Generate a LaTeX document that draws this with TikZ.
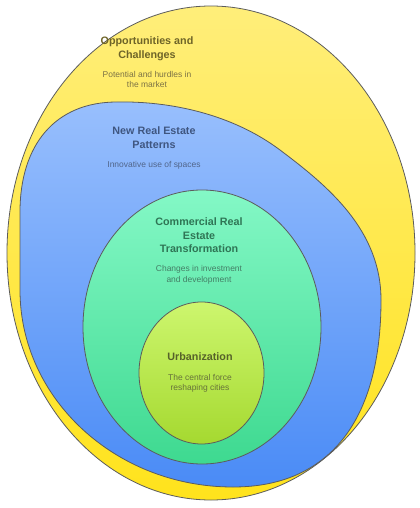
\documentclass[tikz,border=0pt]{standalone}
\usepackage{fontspec}
\setmainfont{Liberation Sans}
\usetikzlibrary{positioning}
\definecolor{Outline}{HTML}{5C5C5C}
\definecolor{SunTop}{HTML}{FFEE7A}
\definecolor{SunBot}{HTML}{FFE31C}
\definecolor{SkyTop}{HTML}{98BFFD}
\definecolor{SkyBot}{HTML}{4A8BF6}
\definecolor{MintTop}{HTML}{84F8C6}
\definecolor{MintBot}{HTML}{3ED990}
\definecolor{LimeTop}{HTML}{CDF66E}
\definecolor{LimeBot}{HTML}{A5D930}
\definecolor{SunInk}{HTML}{6E6428}
\definecolor{SunNote}{HTML}{7D7345}
\definecolor{SkyInk}{HTML}{3F5680}
\definecolor{SkyNote}{HTML}{51658A}
\definecolor{MintInk}{HTML}{2F7555}
\definecolor{MintNote}{HTML}{447F66}
\definecolor{LimeInk}{HTML}{56622A}
\definecolor{LimeNote}{HTML}{66723A}
\tikzset{
  layer/.style={draw=Outline, line width=0.8bp},
  heading/.style={
    inner sep=0pt, align=center, text depth=2.2bp,
    font=\fontsize{10.8}{13.5}\selectfont\bfseries
  },
  blurb/.style={
    inner sep=0pt, align=center,
    font=\fontsize{8.5}{10.5}\selectfont
  }
}
\begin{document}
\begin{tikzpicture}[x=1bp, y=-1bp]
    \useasboundingbox (0,0) rectangle (419,508);
    % layers, outer to inner
    \shadedraw[layer, top color=SunTop, bottom color=SunBot]
      (211,253) ellipse [x radius=204bp, y radius=247bp];
    \shadedraw[layer, top color=SkyTop, bottom color=SkyBot]
      (20,212) .. controls (20,145) and (55,102) .. (117,102)
      .. controls (170,101) and (232,114) .. (280,150)
      .. controls (328,186) and (381,230) .. (381,300)
      .. controls (381,421) and (329,487) .. (233,487)
      .. controls (116,487) and (20,399) .. (20,290) -- cycle;
    \shadedraw[layer, top color=MintTop, bottom color=MintBot]
      (202,327) ellipse [x radius=119bp, y radius=137bp];
    \shadedraw[layer, top color=LimeTop, bottom color=LimeBot]
      (201.5,373) ellipse [x radius=62.5bp, y radius=71bp];
    % labels
    \node[heading, text=SunInk] (opptitle) at (147,48.5)
      {Opportunities and\\Challenges};
    \node[blurb, text=SunNote, below=10.5bp of opptitle] (oppnote)
      {Potential and hurdles in\\the market};
    \node[heading, text=SkyInk] (patterntitle) at (154,138.5)
      {New Real Estate\\Patterns};
    \node[blurb, text=SkyNote, below=10.5bp of patterntitle] (patternnote)
      {Innovative use of spaces};
    \node[heading, text=MintInk] (commtitle) at (199,236.5)
      {Commercial Real\\Estate\\Transformation};
    \node[blurb, text=MintNote, below=10.5bp of commtitle] (commnote)
      {Changes in investment\\and development};
    \node[heading, text=LimeInk] (urbtitle) at (200,358)
      {Urbanization};
    \node[blurb, text=LimeNote, below=10.5bp of urbtitle] (urbnote)
      {The central force\\reshaping cities};
  \end{tikzpicture}
\end{document}
